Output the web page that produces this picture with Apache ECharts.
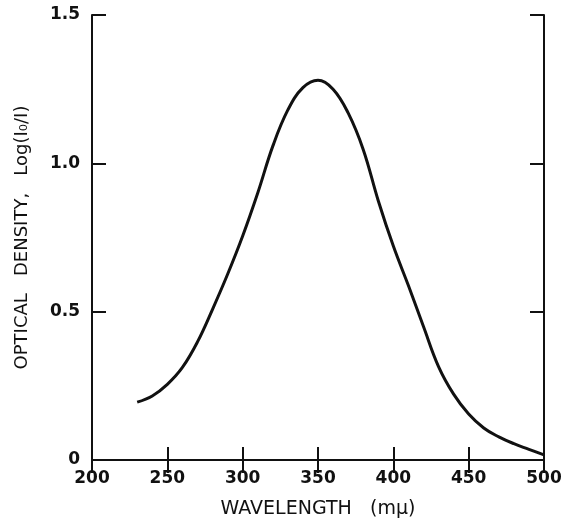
<!DOCTYPE html>
<html lang="en">
<head>
    <meta charset="UTF-8">
    <title></title>
    <style>
        * {
            margin: 0;
            padding: 0;
            box-sizing: border-box;
        }

        html, body {
            width: 564px;
            height: 519px;
            background: #ffffff;
            overflow: hidden;
        }

        #chart {
            width: 564px;
            height: 519px;
        }
    </style>
    <script type="text/javascript" src="https://cdn.jsdelivr.net/npm/echarts@6/dist/echarts.min.js"></script>
</head>
<body>
<div id="chart"></div>
<script type="text/javascript">
    // wavelength (mμ) and optical density
    var wavelength = [230, 240, 250, 260, 270, 280, 290, 300, 310, 320, 330, 340, 350,
        360, 370, 380, 390, 400, 410, 420, 430, 440, 450, 460, 470, 480, 490, 500]
    var density = [0.195, 0.216, 0.255, 0.312, 0.398, 0.508, 0.626, 0.755, 0.900, 1.058, 1.180, 1.255, 1.280,
        1.250, 1.170, 1.047, 0.874, 0.721, 0.588, 0.450, 0.315, 0.222, 0.155, 0.108, 0.078, 0.055, 0.036, 0.017]
    var xTicks = [200, 250, 300, 350, 400, 450, 500]
    var yTicks = [0, 0.5, 1.0, 1.5]

    var ink = '#111111'
    var font = 'DejaVu Sans'

    var points = wavelength.map(function (w, i) {
        return [w, density[i]]
    })

    function yLabel(v) {
        return v === 0 ? '0' : v.toFixed(1)
    }

    var myChart = echarts.init(document.getElementById('chart'))
    var option = {
        backgroundColor: '#ffffff',
        animation: false,
        grid: {
            left: 92,
            right: 20,
            top: 15,
            bottom: 59,
            outerBoundsMode: 'none'
        },
        xAxis: [
            {
                type: 'value',
                min: xTicks[0],
                max: xTicks[xTicks.length - 1],
                interval: 50,
                name: 'WAVELENGTH   (mμ)',
                nameLocation: 'middle',
                nameGap: 40,
                nameTextStyle: {color: ink, fontFamily: font, fontSize: 19, fontWeight: 'normal'},
                axisLine: {show: true, lineStyle: {color: ink, width: 2}},
                axisTick: {show: true, inside: true, length: 13, lineStyle: {color: ink, width: 2}},
                axisLabel: {color: ink, fontFamily: font, fontSize: 17, fontWeight: 'bold', margin: 10},
                splitLine: {show: false}
            },
            {
                type: 'value',
                position: 'top',
                min: xTicks[0],
                max: xTicks[xTicks.length - 1],
                interval: 50,
                axisLine: {show: true, lineStyle: {color: ink, width: 2}},
                axisTick: {show: true, inside: true, length: 13, lineStyle: {color: ink, width: 2}},
                axisLabel: {show: false},
                splitLine: {show: false}
            }
        ],
        yAxis: [
            {
                type: 'value',
                min: yTicks[0],
                max: yTicks[yTicks.length - 1],
                interval: 0.5,
                name: 'OPTICAL   DENSITY,   Log(I₀/I)',
                nameLocation: 'middle',
                nameGap: 61,
                nameRotate: 90,
                nameTextStyle: {color: ink, fontFamily: font, fontSize: 18, fontWeight: 'normal'},
                axisLine: {show: true, lineStyle: {color: ink, width: 2}},
                axisTick: {show: true, inside: true, length: 14, lineStyle: {color: ink, width: 2}},
                axisLabel: {color: ink, fontFamily: font, fontSize: 17, fontWeight: 'bold', margin: 12, formatter: yLabel},
                splitLine: {show: false}
            },
            {
                type: 'value',
                position: 'right',
                min: yTicks[0],
                max: yTicks[yTicks.length - 1],
                interval: 0.5,
                axisLine: {show: true, lineStyle: {color: ink, width: 2}},
                axisTick: {show: true, inside: true, length: 14, lineStyle: {color: ink, width: 2}},
                axisLabel: {show: false},
                splitLine: {show: false}
            }
        ],
        series: [
            {
                type: 'line',
                data: points,
                smooth: 0.4,
                showSymbol: false,
                lineStyle: {color: ink, width: 3}
            }
        ]
    }
    myChart.setOption(option)
</script>
</body>
</html>
